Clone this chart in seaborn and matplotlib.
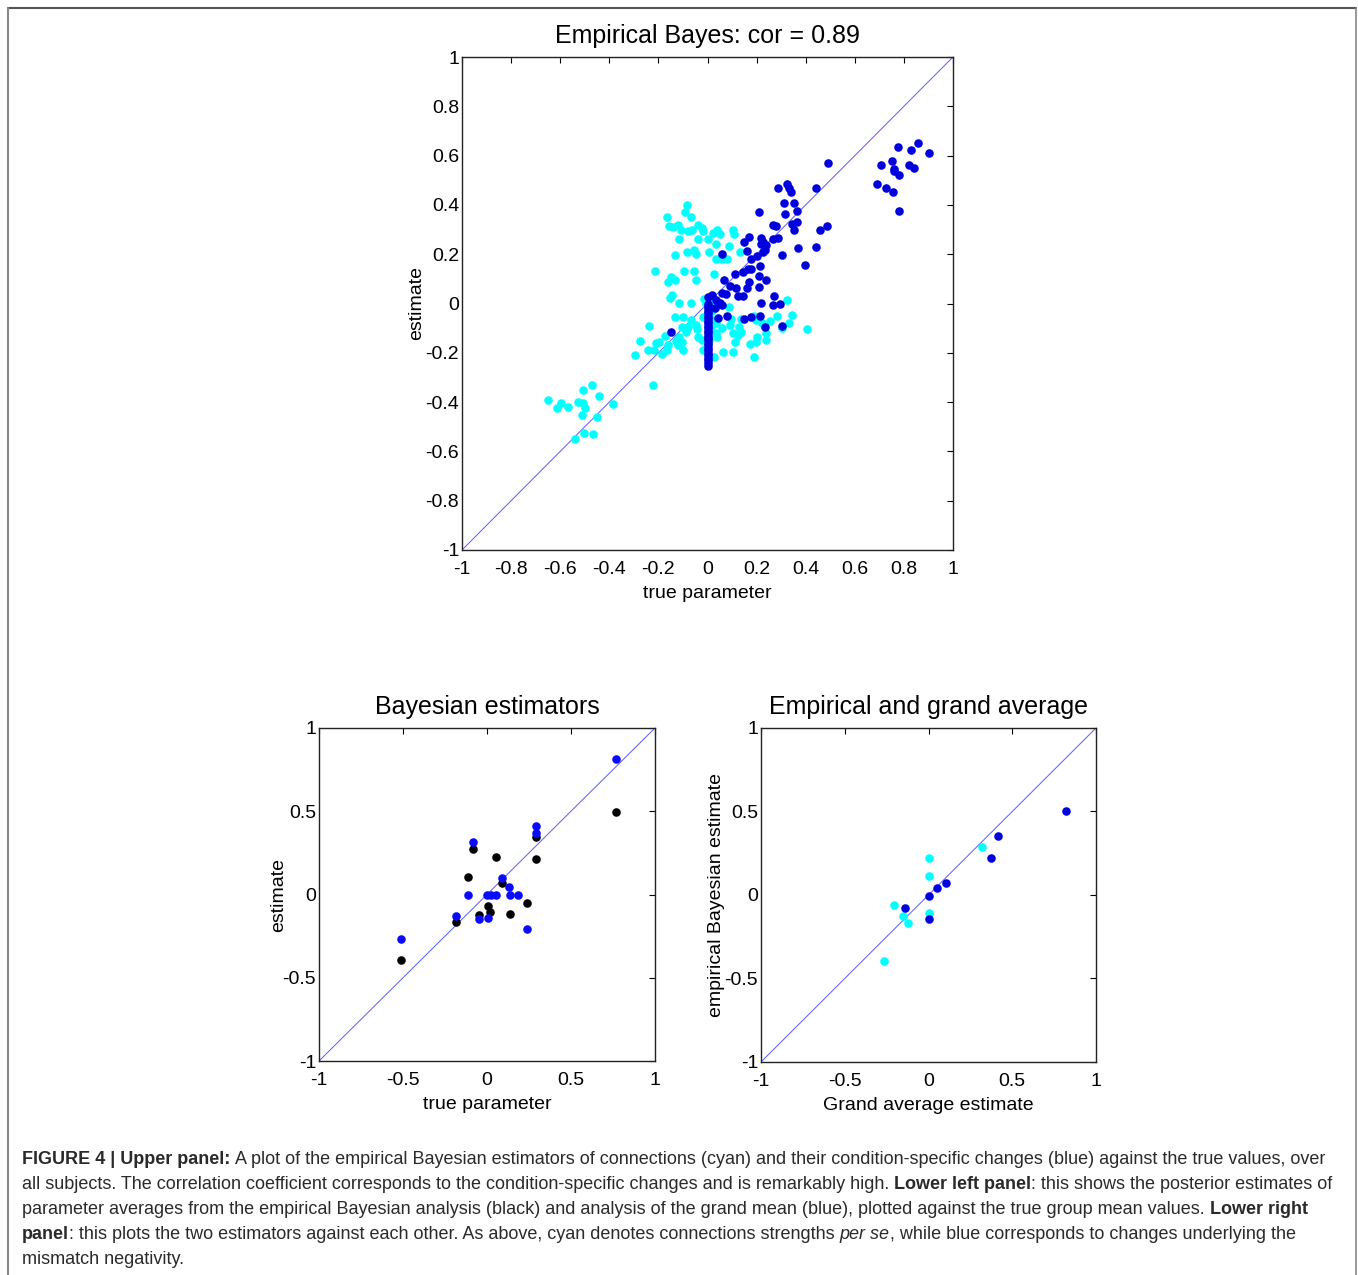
import numpy as np
import pandas as pd
import matplotlib
matplotlib.use("Agg")
import matplotlib.pyplot as plt
from matplotlib.lines import Line2D
import seaborn as sns

sns.set_style("white")
plt.rcParams['font.family'] = ['Liberation Sans', 'DejaVu Sans']
plt.rcParams['text.color'] = 'black'
plt.rcParams['axes.labelcolor'] = 'black'

# --- data ---

# upper panel: empirical Bayes estimates vs true parameter
eb_cyan_x = [-0.648, -0.615, -0.597, -0.568, -0.526, -0.508, -0.509, -0.498, -0.513, -0.471,
             -0.440, -0.449, -0.383, -0.502, -0.466, -0.540, -0.221,
             -0.084, -0.090, -0.066, -0.163, -0.157, -0.140, -0.121, -0.106, -0.080, -0.063,
             -0.037, -0.024, -0.018, -0.115, -0.037, 0.004, 0.024, 0.037, 0.050, 0.034,
             0.102, 0.109, 0.088, -0.131, -0.084, -0.053, -0.046, 0.007, 0.034, 0.058,
             0.081, 0.134, -0.212, -0.159, -0.148, -0.131, -0.095, -0.057, -0.048, 0.027,
             -0.145, -0.151, -0.115, -0.066, -0.015, -0.007, 0.020, 0.034, 0.086, 0.324,
             0.346, 0.282, 0.255, 0.332, 0.305, 0.405, 0.191, 0.197, 0.224, 0.240,
             0.202, 0.240, 0.172, 0.198, 0.191, 0.138, 0.128, 0.138, 0.124, 0.102,
             0.111, 0.105, 0.095, 0.091, 0.061, 0.064, 0.034, 0.034, 0.038, 0.027,
             0.018, 0.023, 0.014, 0.007, -0.020, -0.045, -0.037, -0.041, -0.068, -0.099,
             -0.131, -0.079, -0.102, -0.086, -0.115, -0.102, -0.121, -0.099, -0.129, -0.159,
             -0.163, -0.175, -0.186, -0.197, -0.210, -0.217, -0.242, -0.238, -0.276, -0.296,
             -0.023, -0.020]
eb_cyan_y = [-0.393, -0.425, -0.402, -0.420, -0.398, -0.352, -0.402, -0.425, -0.451, -0.329,
             -0.376, -0.462, -0.409, -0.525, -0.531, -0.551, -0.329,
             0.398, 0.371, 0.352, 0.352, 0.314, 0.310, 0.318, 0.300, 0.293, 0.297,
             0.320, 0.306, 0.293, 0.260, 0.262, 0.262, 0.285, 0.300, 0.282, 0.243,
             0.300, 0.282, 0.235, 0.198, 0.208, 0.219, 0.202, 0.208, 0.182, 0.182,
             0.182, 0.208, 0.130, 0.088, 0.108, 0.097, 0.130, 0.130, 0.094, 0.119,
             0.034, 0.022, 0.003, 0.003, 0.020, 0.000, 0.011, 0.000, -0.013, 0.013,
             -0.046, -0.050, -0.070, -0.078, -0.101, -0.103, -0.050, -0.067, -0.081, -0.119,
             -0.135, -0.148, -0.165, -0.158, -0.219, -0.061, -0.095, -0.115, -0.128, -0.119,
             -0.155, -0.198, -0.061, -0.088, -0.101, -0.198, -0.081, -0.121, -0.135, -0.219,
             -0.030, -0.067, -0.101, -0.148, -0.054, -0.088, -0.135, -0.105, -0.067, -0.054,
             -0.054, -0.094, -0.094, -0.115, -0.135, -0.155, -0.169, -0.189, -0.151, -0.169,
             -0.189, -0.130, -0.205, -0.157, -0.162, -0.189, -0.189, -0.093, -0.151, -0.209,
             -0.148, -0.189]

eb_blue_x = [0.690, 0.707, 0.729, 0.755, 0.752, 0.760, 0.760, 0.781, 0.777, 0.782,
             0.819, 0.842, 0.830, 0.857, 0.904,
             0.490, 0.443, 0.458, 0.485, 0.441, 0.399, 0.324, 0.332, 0.340, 0.288,
             0.351, 0.310, 0.315, 0.363, 0.346, 0.363, 0.351, 0.367, 0.208, 0.265,
             0.278, 0.288, 0.265, 0.303, 0.149, 0.171, 0.160, 0.216, 0.217, 0.227,
             0.239, 0.233, 0.227, 0.200, 0.178, 0.061, 0.213, 0.113, 0.143, 0.166,
             0.178, 0.208, 0.239, 0.171, 0.069, 0.092, 0.118, 0.160, 0.208, 0.125,
             0.144, 0.058, 0.077, 0.001, 0.018, 0.034, 0.052, 0.058, 0.031, 0.043,
             0.081, 0.219, 0.272, 0.265, 0.297, 0.149, 0.178, 0.212, 0.235, 0.303,
             -0.148,
             0.0, 0.0, 0.0, 0.0, 0.0, 0.0, 0.0, 0.0, 0.0, 0.0, 0.0, 0.0, 0.0,
             0.0, 0.0, 0.0, 0.0, 0.0, 0.0, 0.0, 0.0, 0.0, 0.0, 0.0, 0.0, 0.0]
eb_blue_y = [0.483, 0.563, 0.467, 0.452, 0.578, 0.547, 0.537, 0.521, 0.636, 0.377,
             0.563, 0.551, 0.621, 0.652, 0.610,
             0.572, 0.467, 0.298, 0.314, 0.229, 0.155, 0.483, 0.468, 0.452, 0.467,
             0.408, 0.409, 0.362, 0.377, 0.321, 0.331, 0.298, 0.224, 0.371, 0.320,
             0.314, 0.266, 0.262, 0.197, 0.250, 0.271, 0.213, 0.267, 0.243, 0.251,
             0.236, 0.219, 0.208, 0.192, 0.181, 0.202, 0.151, 0.119, 0.128, 0.138,
             0.139, 0.113, 0.097, 0.089, 0.094, 0.073, 0.061, 0.061, 0.066, 0.030,
             0.032, 0.043, 0.038, 0.027, 0.034, 0.013, 0.004, -0.008, -0.018, -0.058,
             -0.050, 0.003, 0.030, -0.008, -0.003, -0.061, -0.054, -0.050, -0.097, -0.093,
             -0.115,
             0.0, -0.01, -0.02, -0.03, -0.04, -0.05, -0.06, -0.07, -0.08, -0.09, -0.10, -0.11, -0.12,
             -0.13, -0.14, -0.15, -0.16, -0.17, -0.18, -0.19, -0.20, -0.21, -0.22, -0.23, -0.24, -0.254]

# lower left: Bayesian estimators vs true group mean
ll_black_x = [-0.511, -0.182, -0.112, -0.082, 0.052, -0.050, 0.004, 0.020, 0.090, 0.138,
              0.240, 0.293, 0.293, 0.768]
ll_black_y = [-0.393, -0.164, 0.106, 0.275, 0.224, -0.124, -0.070, -0.104, 0.072, -0.120,
              -0.050, 0.216, 0.345, 0.497]
ll_blue_x = [-0.511, -0.182, -0.112, -0.082, -0.050, 0.004, -0.002, 0.024, 0.054, 0.090,
             0.130, 0.138, 0.184, 0.240, 0.293, 0.293, 0.768]
ll_blue_y = [-0.267, -0.128, -0.004, 0.317, -0.150, -0.144, -0.004, -0.004, -0.004, 0.100,
             0.046, -0.004, -0.004, -0.208, 0.371, 0.411, 0.814]

# lower right: empirical Bayes vs grand average estimate
lr_cyan_x = [-0.265, -0.204, -0.150, -0.122, 0.0, 0.0, 0.0, 0.319]
lr_cyan_y = [-0.393, -0.058, -0.126, -0.168, 0.224, 0.114, -0.106, 0.285]
lr_blue_x = [-0.142, 0.0, 0.048, 0.102, 0.0, 0.373, 0.413, 0.818]
lr_blue_y = [-0.076, -0.004, 0.044, 0.074, -0.144, 0.224, 0.355, 0.503]

CYAN = '#00ffff'
DARK_BLUE = '#0000dc'
BRIGHT_BLUE = '#0a0aff'
LINE_BLUE = '#5a5aff'
PT = 38

W, H = 1358, 1275
fig = plt.figure(figsize=(W / 100, H / 100), dpi=100)


def make_axes(px_left, px_top, px_right, px_bottom):
    return fig.add_axes([px_left / W, 1 - px_bottom / H,
                         (px_right - px_left) / W, (px_bottom - px_top) / H])


def style_axes(ax, ticks, labels, title, xlabel, ylabel, ylabelpad):
    ax.plot([-1, 1], [-1, 1], color=LINE_BLUE, lw=0.7, zorder=1)
    ax.set_xlim(-1, 1)
    ax.set_ylim(-1, 1)
    ax.set_xticks(ticks)
    ax.set_yticks(ticks)
    ax.set_xticklabels(labels)
    ax.set_yticklabels(labels)
    ax.tick_params(direction='in', length=4, width=0.8, top=True, right=True,
                   labelsize=14, colors='black')
    ax.tick_params(axis='y', pad=2)
    ax.tick_params(axis='x', pad=8)
    for s in ax.spines.values():
        s.set_color('#222222')
        s.set_linewidth(1.0)
    ax.set_title(title, fontsize=18, pad=10, color='black')
    ax.set_xlabel(xlabel, fontsize=14, labelpad=5)
    ax.set_ylabel(ylabel, fontsize=14, labelpad=ylabelpad)
    ax.set_facecolor('white')


def scatter(ax, xs, ys, color):
    df = pd.DataFrame({'x': xs, 'y': ys})
    sns.scatterplot(data=df, x='x', y='y', ax=ax, color=color, s=PT,
                    linewidth=0, zorder=3)


# upper panel
ax1 = make_axes(462, 57, 953, 550)
scatter(ax1, eb_cyan_x, eb_cyan_y, CYAN)
scatter(ax1, eb_blue_x, eb_blue_y, DARK_BLUE)
t1 = np.round(np.arange(-1, 1.01, 0.2), 1)
style_axes(ax1, t1, ['-1', '-0.8', '-0.6', '-0.4', '-0.2', '0', '0.2', '0.4', '0.6', '0.8', '1'],
           'Empirical Bayes: cor = 0.89', 'true parameter', 'estimate', 0)

# lower left
ax2 = make_axes(319, 728, 655, 1061)
scatter(ax2, ll_black_x, ll_black_y, 'black')
scatter(ax2, ll_blue_x, ll_blue_y, BRIGHT_BLUE)
t2 = [-1, -0.5, 0, 0.5, 1]
style_axes(ax2, t2, ['-1', '-0.5', '0', '0.5', '1'],
           'Bayesian estimators', 'true parameter', 'estimate', -3)

# lower right
ax3 = make_axes(761, 728, 1096, 1062)
scatter(ax3, lr_cyan_x, lr_cyan_y, CYAN)
scatter(ax3, lr_blue_x, lr_blue_y, DARK_BLUE)
style_axes(ax3, t2, ['-1', '-0.5', '0', '0.5', '1'],
           'Empirical and grand average', 'Grand average estimate',
           'empirical Bayesian estimate', 0)

# frame round the figure (open at the bottom)
fig.add_artist(Line2D([7.5 / W, 1356 / W], [1 - 8 / H, 1 - 8 / H], color='#555555', lw=1.5))
fig.add_artist(Line2D([7.5 / W, 7.5 / W], [1 - 8 / H, 0], color='#888888', lw=1.5))
fig.add_artist(Line2D([1356 / W, 1356 / W], [1 - 8 / H, 0], color='#888888', lw=1.2))

# caption, drawn run by run
caption_lines = [
    [("FIGURE 4 | Upper panel:", 'bold', 'normal', False),
     ("A plot of the empirical Bayesian estimators of connections (cyan) and their condition-specific changes (blue) against the true values, over", 'normal', 'normal', True)],
    [("all subjects. The correlation coefficient corresponds to the condition-specific changes and is remarkably high.", 'normal', 'normal', False),
     ("Lower left panel", 'bold', 'normal', True),
     (": this shows the posterior estimates of", 'normal', 'normal', False)],
    [("parameter averages from the empirical Bayesian analysis (black) and analysis of the grand mean (blue), plotted against the true group mean values.", 'normal', 'normal', False),
     ("Lower right", 'bold', 'normal', True)],
    [("panel", 'bold', 'normal', False),
     (": this plots the two estimators against each other. As above, cyan denotes connections strengths", 'normal', 'normal', False),
     ("per se", 'normal', 'italic', True),
     (", while blue corresponds to changes underlying the", 'normal', 'normal', False)],
    [("mismatch negativity.", 'normal', 'normal', False)],
]
cap_fs = 12.95
cap_font = ['Liberation Sans', 'DejaVu Sans']
renderer = fig.canvas.get_renderer()


def text_w(s, weight, style):
    t = fig.text(0, 0, s, fontsize=cap_fs, fontweight=weight, fontstyle=style, family=cap_font)
    w = t.get_window_extent(renderer).width
    t.remove()
    return w


space_w = text_w("a a", 'normal', 'normal') - text_w("aa", 'normal', 'normal')
baselines = [1164, 1189, 1214, 1239, 1264]
for runs, yb in zip(caption_lines, baselines):
    x = 22.0
    for s, weight, style, sp in runs:
        if sp:
            x += space_w
        t = fig.text(x / W, 1 - yb / H, s, fontsize=cap_fs, fontweight=weight,
                     fontstyle=style, family=cap_font, color='#2a2a2a', va='baseline')
        x += t.get_window_extent(renderer).width

fig.savefig('out.png', dpi=100, facecolor='white')
